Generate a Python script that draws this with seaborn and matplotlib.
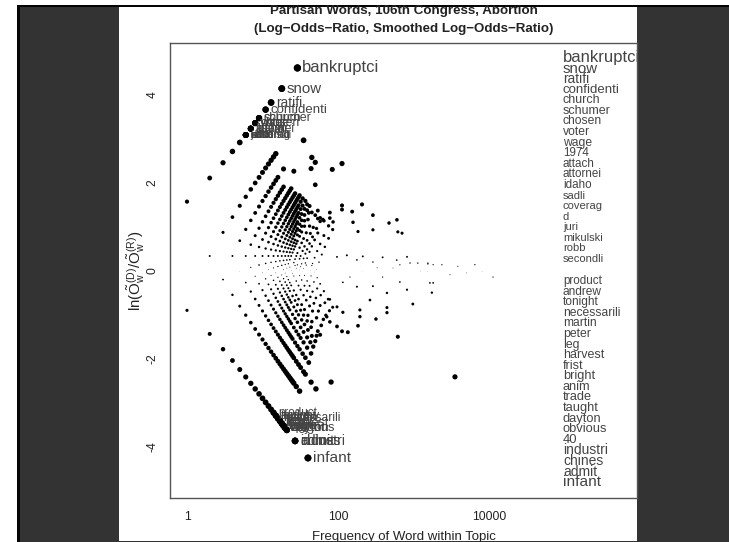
import numpy as np
import pandas as pd
import matplotlib
matplotlib.use("Agg")
import matplotlib.pyplot as plt
import seaborn as sns
from matplotlib.patches import Rectangle
from matplotlib.transforms import blended_transform_factory

# ---- word counts: (Democratic uses, Republican uses) ----
# most Democratic words, listed from the most partisan down
top_words = ["bankruptci", "snow", "ratifi", "confidenti", "church", "schumer",
             "chosen", "voter", "wage", "1974", "attach", "attornei", "idaho",
             "sadli", "coverag", "d", "juri", "mikulski", "robb", "secondli"]
top_dem = [29, 18, 13, 11, 9, 9, 8, 8, 8, 7, 7, 7, 7, 6, 6, 6, 6, 6, 6, 6]
top_rep = [0, 0, 0, 0, 0, 0, 0, 0, 0, 0, 0, 0, 0, 0, 0, 0, 0, 0, 0, 0]

# most Republican words, listed from the least to the most partisan
bottom_words = ["product", "andrew", "tonight", "necessarili", "martin", "peter",
                "leg", "harvest", "frist", "bright", "anim", "trade", "taught",
                "dayton", "obvious", "40", "industri", "chines", "admit", "infant"]
bottom_dem = [0, 0, 0, 0, 0, 0, 0, 0, 0, 0, 0, 0, 0, 0, 0, 0, 0, 0, 0, 0]
bottom_rep = [14, 15, 15, 16, 16, 17, 17, 18, 18, 19, 19, 19, 20, 20, 20, 21, 27, 27, 27, 40]

# words with a fixed Republican count (k) and the Democratic counts observed
rep0_dem = [1, 2, 3, 4, 5, 6, 7, 8, 9, 11, 13, 18, 29]
rep1_dem = [1, 2, 3, 4, 5, 6, 7, 8, 9, 10, 11, 12, 13, 14]
rep2_dem = [1, 2, 3, 4, 5, 6, 7, 8, 9, 10, 11, 12, 13, 14, 17, 33]
rep3_dem = [2, 3, 4, 5, 6, 7, 8, 9, 10, 11, 12, 13, 14, 15, 16, 23]
rep4_dem = [3, 4, 5, 6, 7, 8, 9, 10, 11, 12, 13, 14, 15, 16, 17, 18, 19, 20, 41]
rep5_dem = [4, 5, 6, 7, 8, 9, 10, 11, 12, 13, 14, 15, 16, 17, 18, 19, 20, 21, 22, 39, 45]
rep6_dem = [5, 6, 7, 8, 9, 10, 11, 12, 13, 14, 15, 16, 17, 18, 19, 20, 21, 22, 23, 24, 25]
rep7_dem = [5, 6, 7, 8, 9, 10, 11, 12, 13, 14, 15, 16, 17, 18, 19, 20, 21, 22, 23, 25, 27]
rep8_dem = [6, 7, 8, 9, 10, 11, 12, 13, 14, 15, 16, 17, 18, 19, 20, 21, 22, 24, 26, 29, 42]
rep9_dem = [7, 8, 9, 10, 11, 12, 13, 14, 15, 16, 17, 18, 19, 20, 22, 24, 27, 30]
rep10_dem = [8, 9, 10, 11, 12, 13, 14, 15, 16, 17, 18, 19, 21, 23, 26, 29, 32, 74]
rep11_dem = [8, 9, 10, 11, 12, 13, 14, 15, 16, 18, 20, 22, 25, 30]
rep12_dem = [9, 10, 11, 12, 13, 14, 15, 16, 17, 19, 21, 24, 28, 33, 101]
rep14_dem = [10, 12, 13, 14, 15, 17, 19, 21, 24, 28, 36]
rep16_dem = [12, 13, 15, 16, 18, 20, 23, 27, 31, 38]
rep18_dem = [13, 15, 17, 19, 21, 24, 28, 34, 40]
rep20_dem = [15, 17, 19, 22, 25, 29, 34, 45]
rep25_dem = [18, 21, 24, 28, 33, 40, 50]
rep30_dem = [22, 26, 31, 37, 45, 55]

# words with a fixed Democratic count (j) and the Republican counts observed
dem0_rep = [1, 2, 3, 4, 5, 6, 7, 8, 9, 10, 11, 12, 13, 14, 15, 16, 17, 18, 19, 20, 21, 27, 40]
dem1_rep = [2, 3, 4, 5, 6, 7, 8, 9, 10, 11, 12, 13, 14, 15, 16, 17, 18, 19, 20, 21, 22,
            23, 24, 25, 27, 30]
dem2_rep = [3, 4, 5, 6, 7, 8, 9, 10, 11, 12, 13, 14, 15, 16, 17, 18, 19, 20, 21, 22, 23,
            24, 26, 28, 30, 33, 35, 42, 49]
dem3_rep = [4, 5, 6, 7, 8, 9, 10, 11, 12, 13, 14, 15, 16, 17, 18, 19, 20, 21, 22, 24, 26,
            28, 31, 34, 38]
dem4_rep = [5, 6, 7, 8, 9, 10, 11, 12, 13, 14, 15, 16, 17, 18, 19, 20, 22, 24, 26, 28, 31,
            35, 40, 77]
dem5_rep = [6, 7, 8, 9, 10, 11, 12, 13, 14, 15, 16, 17, 18, 20, 22, 24, 27, 30, 34, 38, 42]
dem6_rep = [8, 9, 10, 11, 12, 13, 14, 15, 16, 17, 18, 20, 22, 24, 27, 30, 34, 39, 44]
dem7_rep = [9, 10, 11, 12, 13, 14, 15, 16, 18, 20, 22, 25, 28, 32, 37, 45]
dem8_rep = [10, 11, 12, 13, 14, 15, 16, 18, 20, 22, 25, 28, 32, 37, 46]
dem10_rep = [13, 14, 15, 16, 18, 20, 22, 25, 28, 32, 36, 42, 50]
dem12_rep = [15, 17, 19, 21, 24, 27, 31, 36, 43, 52]
dem14_rep = [18, 20, 22, 25, 28, 32, 37, 44, 55]
dem17_rep = [21, 24, 27, 31, 36, 42, 50, 60]
dem20_rep = [25, 29, 33, 38, 45, 54, 65]

# frequent words spoken by both parties
common_dem = [86, 159, 208, 322, 419, 393, 442, 113, 55, 41, 84, 40, 57, 44, 59, 108,
              117, 187, 106, 192, 286, 406, 414, 712, 1072, 580, 506, 105, 61, 85, 31,
              71, 134, 260, 97, 59, 41, 55, 88, 143, 231, 149, 235, 21, 23, 25, 14, 14,
              20, 8, 16, 39, 44, 96, 17, 66, 48, 85, 135, 297, 524, 638, 4320, 3330,
              2930, 1710, 2040, 1200, 930, 640, 820, 705, 530, 246, 213]
common_rep = [27, 49, 82, 152, 184, 227, 263, 41, 23, 17, 29, 14, 21, 19, 27, 50, 67,
              103, 107, 198, 314, 414, 486, 838, 1308, 1070, 724, 340, 257, 535, 153,
              194, 311, 560, 193, 119, 75, 89, 125, 187, 304, 241, 425, 57, 74, 91, 57,
              64, 115, 50, 81, 156, 151, 349, 96, 65, 49, 93, 155, 363, 616, 912, 6980,
              4770, 3570, 2160, 3000, 1840, 1310, 1180, 1000, 845, 1220, 734, 3327]

prior = 0.41             # Dirichlet prior count added to each party's count
corpus_log_ratio = 0.34  # log of Republican / Democratic topic size

# ---- assemble the table of words ----
upper_lines = [(0, rep0_dem), (1, rep1_dem), (2, rep2_dem), (3, rep3_dem), (4, rep4_dem),
               (5, rep5_dem), (6, rep6_dem), (7, rep7_dem), (8, rep8_dem), (9, rep9_dem),
               (10, rep10_dem), (11, rep11_dem), (12, rep12_dem), (14, rep14_dem),
               (16, rep16_dem), (18, rep18_dem), (20, rep20_dem), (25, rep25_dem),
               (30, rep30_dem)]
lower_lines = [(0, dem0_rep), (1, dem1_rep), (2, dem2_rep), (3, dem3_rep), (4, dem4_rep),
               (5, dem5_rep), (6, dem6_rep), (7, dem7_rep), (8, dem8_rep), (10, dem10_rep),
               (12, dem12_rep), (14, dem14_rep), (17, dem17_rep), (20, dem20_rep)]
dem, rep = [], []
for k, ds in upper_lines:
    dem += ds
    rep += [k] * len(ds)
for j, rs in lower_lines:
    dem += [j] * len(rs)
    rep += rs
dem += common_dem + top_dem + bottom_dem
rep += common_rep + top_rep + bottom_rep


def log_odds(d, r):
    d = np.asarray(d, float)
    r = np.asarray(r, float)
    return np.log((d + prior) / (r + prior)) + corpus_log_ratio


words = pd.DataFrame({"dem": dem, "rep": rep})
words["freq"] = words["dem"] + words["rep"]
words["lor"] = log_odds(words["dem"], words["rep"])
words["weight"] = words["lor"].abs()

# ---- figure ----
sns.set_theme(style="white")
plt.rcParams["font.family"] = ["Liberation Sans", "DejaVu Sans"]
plt.rcParams["mathtext.fontset"] = "custom"
plt.rcParams["mathtext.rm"] = "Liberation Sans"
plt.rcParams["mathtext.it"] = "Liberation Sans:italic"

W, H = 729, 542
fig = plt.figure(figsize=(W / 100, H / 100), dpi=100)
fig.patch.set_facecolor("white")


def px_rect(x0, y0, x1, y1, color, z):
    fig.patches.append(Rectangle((x0 / W, 1 - y1 / H), (x1 - x0) / W, (y1 - y0) / H,
                                 transform=fig.transFigure, facecolor=color,
                                 edgecolor="none", zorder=z))


px_rect(17, 5, W, H, "#050505", -5)
px_rect(20, 7, W, H, "#333333", -4)
px_rect(119, 7, 637, 541, "white", -3)

L, R, T, B = 170, 637, 43, 498
ax = fig.add_axes([L / W, 1 - B / H, (R - L) / W, (B - T) / H])
ax.set_facecolor("none")

sns.scatterplot(data=words, x="freq", y="lor", size="weight", sizes=(0, 29),
                size_norm=(0, 5), color="black", linewidth=0, legend=False,
                ax=ax, zorder=3)
ax.set_xscale("log")
ax.set_xlim(10 ** -0.225, 10 ** 5.96)
ax.set_ylim(-5.16, 5.18)

ax.set_xticks([1, 100, 10000])
ax.set_xticklabels(["1", "100", "10000"])
ax.set_xticks([], minor=True)
ax.set_yticks([-4, -2, 0, 2, 4])
ax.set_yticklabels(["-4", "-2", "0", "2", "4"], rotation=90, va="center")
ax.tick_params(axis="both", direction="out", length=5, width=0.9, color="#555555",
               labelcolor="#222222", labelsize=8.7)
ax.tick_params(axis="x", pad=4)
ax.tick_params(axis="y", pad=3)
for s in ax.spines.values():
    s.set_color("#555555")
    s.set_linewidth(1.0)

ax.set_xlabel("Frequency of Word within Topic", fontsize=9.5, color="#222222", labelpad=6)
ax.set_ylabel(r"$\mathrm{ln}(\tilde{\mathrm{O}}_{\mathrm{w}}^{(\mathrm{D})}/"
              r"\tilde{\mathrm{O}}_{\mathrm{w}}^{(\mathrm{R})})$",
              fontsize=10.8, color="#222222", labelpad=0)


def label_size(v):
    # text size grows with how partisan the word is
    return 2.6 * abs(v)


# word labels at their points
lab_words = top_words + bottom_words
lab_dem = top_dem + bottom_dem
lab_rep = top_rep + bottom_rep
lab_lor = log_odds(lab_dem, lab_rep)
for w, d, r, v in zip(lab_words, lab_dem, lab_rep, lab_lor):
    ax.annotate(w, (d + r, v), xytext=(3.5, 0), textcoords="offset points",
                ha="left", va="center", fontsize=label_size(v), color="#444444",
                zorder=4)

# ranked lists on the right
blend = blended_transform_factory(ax.transAxes, ax.transData)
for w, v, ypos in zip(top_words, lab_lor[:20], np.linspace(4.84, 0.27, 20)):
    ax.text(0.8415, ypos, w, transform=blend, ha="left", va="center",
            fontsize=label_size(v), color="#444444", clip_on=True)
for w, v, ypos in zip(bottom_words, lab_lor[20:], np.linspace(-0.23, -4.80, 20)):
    ax.text(0.8415, ypos, w, transform=blend, ha="left", va="center",
            fontsize=label_size(v), color="#444444", clip_on=True)

cx = (L + R) / 2 / W
fig.text(cx, 1 - 11 / H, "Partisan Words, 106th Congress, Abortion", ha="center",
         va="center", fontsize=9.6, fontweight="bold", color="#222222")
fig.text(cx, 1 - 29 / H, "(Log\u2212Odds\u2212Ratio, Smoothed Log\u2212Odds\u2212Ratio)",
         ha="center", va="center", fontsize=9.6, fontweight="bold", color="#222222")

fig.savefig("out.png", dpi=100)
